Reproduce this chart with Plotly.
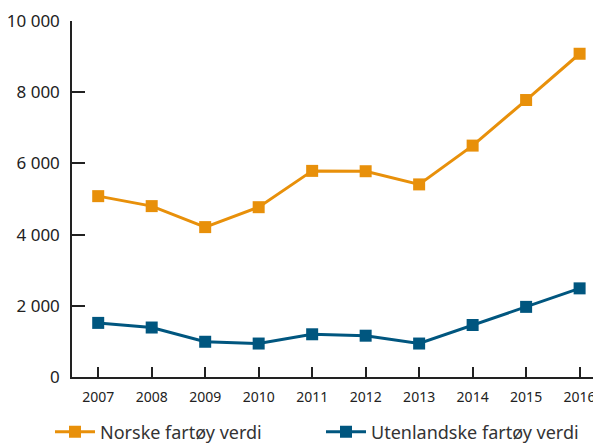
import plotly.graph_objects as go

years = [2007, 2008, 2009, 2010, 2011, 2012, 2013, 2014, 2015, 2016]
norske = [5080, 4800, 4210, 4770, 5790, 5780, 5410, 6500, 7780, 9080]
utenlandske = [1520, 1390, 990, 940, 1200, 1160, 940, 1460, 1970, 2490]
y_ticks = [0, 2000, 4000, 6000, 8000, 10000]

orange = "#E8900A"
blue = "#00567F"

# page body has an 8px default margin, so the figure is drawn at (8, 8)
W, H = 593, 436
L, T, B = 64, 13, 67
PW, PH = W - L, H - T - B

fig = go.Figure()
fig.add_trace(go.Scatter(x=years, y=norske, mode="lines+markers", name="Norske fartøy verdi",
                         line=dict(color=orange, width=3),
                         marker=dict(symbol="square", size=12, color=orange)))
fig.add_trace(go.Scatter(x=years, y=utenlandske, mode="lines+markers", name="Utenlandske fartøy verdi",
                         line=dict(color=blue, width=3),
                         marker=dict(symbol="square", size=12, color=blue)))

fig.update_layout(
    width=W, height=H,
    margin=dict(l=L, r=0, t=T, b=B, autoexpand=False),
    paper_bgcolor="white", plot_bgcolor="white",
    font=dict(family="Noto Sans", size=15, color="#222"),
    separators=", ",
    showlegend=True,
    legend=dict(orientation="h", x=(42 - L) / PW, xanchor="left",
                y=-55 / PH, yanchor="middle",
                font=dict(size=18, color="#333"), itemwidth=40, traceorder="normal",
                entrywidth=216, entrywidthmode="pixels"),
    xaxis=dict(range=[2006.51, 2016.4], tickvals=years, ticks="inside", ticklen=10,
               tickwidth=1.5, tickcolor="#222", showline=True, linecolor="#222", linewidth=1.5,
               showgrid=False, zeroline=False, tickfont=dict(size=14), automargin=False,
               ticklabelstandoff=6),
    yaxis=dict(range=[0, 10000], tickvals=y_ticks, tickformat=",d", ticks="inside", ticklen=13,
               tickwidth=1.5, tickcolor="#222", showline=True, linecolor="#222", linewidth=1.5,
               showgrid=False, zeroline=False, tickfont=dict(size=17), automargin=False,
               ticklabelstandoff=7),
)

fig.write_html("out.html")
